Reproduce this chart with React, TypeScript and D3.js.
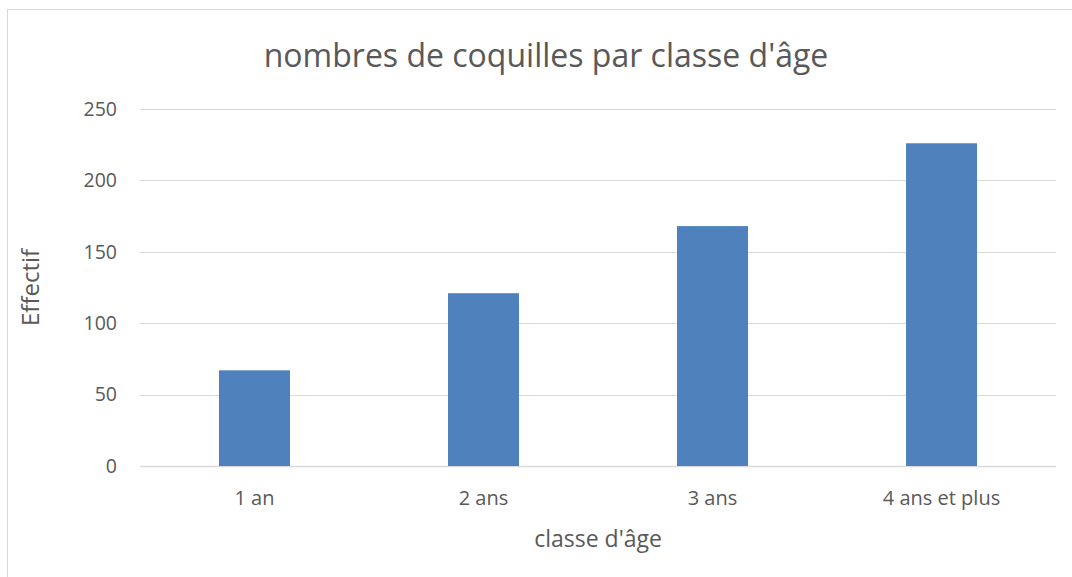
import React, { useEffect, useRef } from 'react';
import * as d3 from 'd3';

const categories = ['1 an', '2 ans', '3 ans', '4 ans et plus'];
const values = [67, 121, 168, 226];
const yTicks = [0, 50, 100, 150, 200, 250];

const TITLE = "nombres de coquilles par classe d'âge";
const X_TITLE = "classe d'âge";
const Y_TITLE = 'Effectif';

const W = 1072;
const H = 577;
const FONT = '"Open Sans", "DejaVu Sans", sans-serif';

const App: React.FC = () => {
    const svgRef = useRef<SVGSVGElement>(null);

    useEffect(() => {
        if (!svgRef.current) return;
        const svg = d3.select(svgRef.current);
        svg.selectAll('*').remove();

        const margin = { top: 109, right: 16, bottom: 111, left: 140 };
        const width = W - margin.left - margin.right;
        const height = H - margin.top - margin.bottom;

        // chart frame (cropped on right / bottom)
        svg.append('rect')
            .attr('x', 7.5)
            .attr('y', 9.5)
            .attr('width', W)
            .attr('height', H)
            .attr('fill', '#fff')
            .attr('stroke', '#d9d9d9')
            .attr('stroke-width', 1);

        const x = d3.scaleBand()
            .domain(categories)
            .range([0, width])
            .paddingInner(0.69)
            .paddingOuter(0.345);

        const y = d3.scaleLinear()
            .domain([0, 250])
            .range([height, 0]);

        const g = svg.append('g')
            .attr('transform', `translate(${margin.left},${margin.top})`);

        // gridlines
        g.selectAll('.grid')
            .data(yTicks)
            .enter()
            .append('line')
            .attr('x1', 0)
            .attr('x2', width)
            .attr('y1', d => Math.round(y(d)) + 0.5)
            .attr('y2', d => Math.round(y(d)) + 0.5)
            .attr('stroke', '#d9d9d9')
            .attr('stroke-width', d => (d === 0 ? 1.5 : 1));

        // y tick labels
        g.selectAll('.ylabel')
            .data(yTicks)
            .enter()
            .append('text')
            .attr('x', -23)
            .attr('y', d => y(d))
            .attr('dy', '0.35em')
            .attr('text-anchor', 'end')
            .attr('font-family', FONT)
            .attr('font-size', 19.5)
            .attr('fill', '#595959')
            .text(d => d);

        // bars
        g.selectAll('.bar')
            .data(values)
            .enter()
            .append('rect')
            .attr('x', (d, i) => x(categories[i]) as number)
            .attr('y', d => y(d))
            .attr('width', x.bandwidth())
            .attr('height', d => height - y(d))
            .attr('fill', '#4f81bd');

        // x tick labels
        g.selectAll('.xlabel')
            .data(categories)
            .enter()
            .append('text')
            .attr('x', d => (x(d) as number) + x.bandwidth() / 2)
            .attr('y', height + 39)
            .attr('text-anchor', 'middle')
            .attr('font-family', FONT)
            .attr('font-size', 20)
            .attr('fill', '#595959')
            .text(d => d);

        // axis titles
        svg.append('text')
            .attr('x', margin.left + width / 2)
            .attr('y', 547)
            .attr('text-anchor', 'middle')
            .attr('font-family', FONT)
            .attr('font-size', 23)
            .attr('fill', '#595959')
            .text(X_TITLE);

        svg.append('text')
            .attr('transform', `translate(39,${margin.top + height / 2}) rotate(-90)`)
            .attr('text-anchor', 'middle')
            .attr('font-family', FONT)
            .attr('font-size', 24)
            .attr('fill', '#595959')
            .text(Y_TITLE);

        // title
        svg.append('text')
            .attr('x', 546)
            .attr('y', 67)
            .attr('text-anchor', 'middle')
            .attr('font-family', FONT)
            .attr('font-size', 32)
            .attr('fill', '#595959')
            .text(TITLE);
    }, []);

    return (
        <svg
            ref={svgRef}
            width={W}
            height={H}
            style={{ position: 'absolute', left: 0, top: 0, background: '#fff' }}
        />
    );
};

export default App;
